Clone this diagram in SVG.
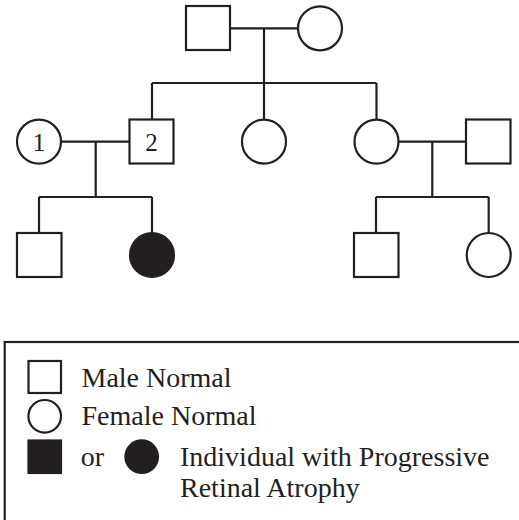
<svg xmlns="http://www.w3.org/2000/svg" width="519" height="520" viewBox="0 0 519 520">
<style>
.s{fill:#fff;stroke:#231f20;stroke-width:2.2}
.f{fill:#231f20;stroke:#231f20;stroke-width:2.2}
.c{fill:none;stroke:#231f20;stroke-width:2.2}
.t{font-family:"Liberation Serif","Times New Roman",serif;fill:#231f20}
.lg{font-size:28px}
.num{font-size:25px;text-anchor:middle}
</style>
<rect width="519" height="520" fill="#fff"/>
<g id="connectors">
<path class="c" d="M230 28.3H298M264 28.3V83M152 83H376.5M152 83V119.3M264 83V119.5M376.5 83V119.5"/>
<path class="c" d="M61 141.7H129.3M95.7 141.7V197M39 197H152M39 197V233M152 197V233"/>
<path class="c" d="M398.5 141.7H466M432.3 141.7V197M376 197H488.7M376 197V233M488.7 197V233"/>
</g>
<g id="gf"><rect class="s" x="186" y="6" width="44" height="44"/></g>
<g id="gm"><circle class="s" cx="320" cy="28.3" r="22"/></g>
<g id="p1"><circle class="s" cx="39" cy="141.7" r="22"/><text class="t num" x="39" y="151">1</text></g>
<g id="p2"><rect class="s" x="129.5" y="119.5" width="44" height="44"/><text class="t num" x="151.5" y="151">2</text></g>
<g id="sis"><circle class="s" cx="264" cy="141.7" r="22"/></g>
<g id="sis2"><circle class="s" cx="376.5" cy="141.7" r="22"/></g>
<g id="spouse"><rect class="s" x="466" y="119.5" width="44.5" height="44"/></g>
<g id="c1"><rect class="s" x="17" y="233" width="44.5" height="44"/></g>
<g id="c2"><circle class="f" cx="152" cy="255" r="22"/></g>
<g id="c3"><rect class="s" x="354" y="233" width="44.5" height="44"/></g>
<g id="c4"><circle class="s" cx="488.7" cy="255" r="22"/></g>
<g id="legend">
<rect class="c" x="4.7" y="342" width="530" height="200"/>
<rect class="s" x="28.5" y="361" width="32.5" height="32"/>
<text class="t lg" x="81.5" y="387.3">Male Normal</text>
<circle class="s" cx="44.7" cy="416.3" r="16.3"/>
<text class="t lg" x="81.5" y="425">Female Normal</text>
<rect class="f" x="28.5" y="440.5" width="32.5" height="32.5"/>
<text class="t lg" x="80.7" y="466">or</text>
<circle class="f" cx="141.7" cy="456.7" r="16.3"/>
<text class="t lg" x="180" y="466">Individual with Progressive</text>
<text class="t lg" x="180" y="496.7">Retinal Atrophy</text>
</g>
</svg>
